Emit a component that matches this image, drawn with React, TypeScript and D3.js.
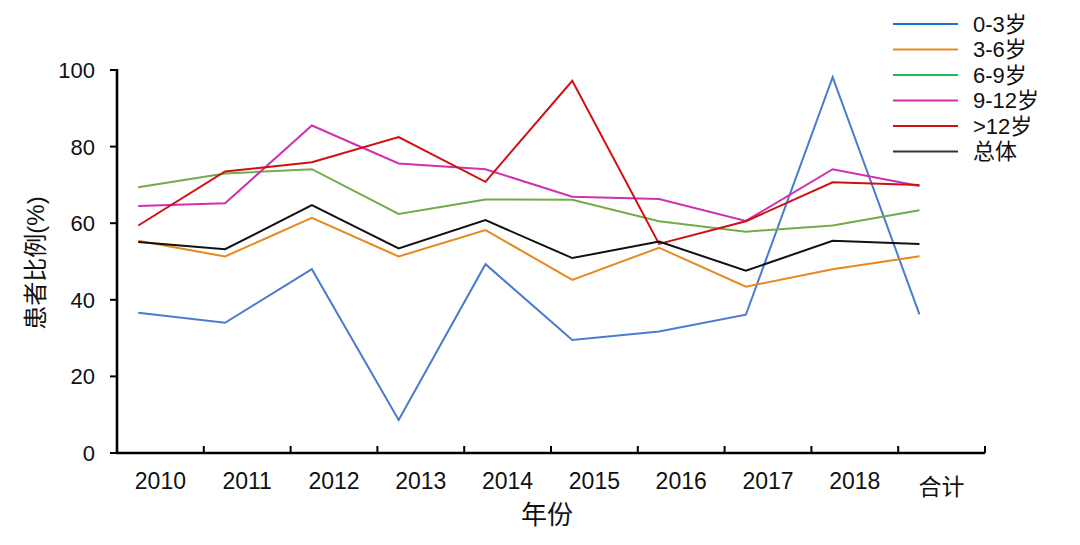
import React from "react";
import * as d3 from "d3";

const categories = ["2010", "2011", "2012", "2013", "2014", "2015", "2016", "2017", "2018", "合计"];
const yTicks = [0, 20, 40, 60, 80, 100];
const seriesNames = ["0-3岁", "3-6岁", "6-9岁", "9-12岁", ">12岁", "总体"];
const lineColors = ["#4a7bd0", "#e8891f", "#70ad47", "#d030b0", "#d01010", "#111111"];
const legendColors = ["#1a73c8", "#e8891f", "#1fb85a", "#d02fb0", "#d01010", "#333333"];
const v03 = [36.6, 34.0, 48.0, 8.6, 49.3, 29.5, 31.7, 36.1, 98.1, 36.2];
const v36 = [55.4, 51.3, 61.4, 51.3, 58.2, 45.2, 53.6, 43.4, 48.0, 51.4];
const v69 = [69.4, 73.0, 74.1, 62.4, 66.2, 66.1, 60.5, 57.8, 59.4, 63.4];
const v912 = [64.5, 65.2, 85.5, 75.6, 74.1, 66.9, 66.3, 60.6, 74.1, 69.7];
const v12p = [59.4, 73.5, 75.9, 82.5, 70.8, 97.2, 54.6, 60.5, 70.7, 70.0];
const vAll = [55.1, 53.2, 64.7, 53.4, 60.8, 50.9, 55.2, 47.6, 55.4, 54.6];
const seriesValues = [v03, v36, v69, v912, v12p, vAll];

export default function App() {
  const W = 1080, H = 545;
  const left = 117, right = 985, top = 70, bottom = 453;
  const x = d3.scaleBand<string>().domain(categories).range([left, right]).padding(0);
  const y = d3.scaleLinear().domain([0, 100]).range([bottom, top]);
  const bw = x.bandwidth();
  const px = (c: string) => (x(c) as number) + bw * 0.245;
  const line = d3.line<number>().x((_, i) => px(categories[i])).y((d) => y(d));
  const latin = "'Liberation Sans', Arial, sans-serif";
  const cjk = "'Liberation Sans', 'Noto Sans CJK SC', sans-serif";

  return (
    <svg width={W} height={H} style={{ position: "absolute", left: 0, top: 0, background: "#fff" }}>
      {seriesValues.map((vals, i) => (
        <path key={i} d={line(vals) as string} fill="none" stroke={lineColors[i]} strokeWidth={2} strokeLinejoin="miter" />
      ))}
      {/* y axis */}
      <line x1={left} x2={left} y1={top - 1} y2={bottom + 1} stroke="#000" strokeWidth={2.6} />
      {yTicks.map((t) => (
        <g key={t}>
          <line x1={left - 7} x2={left} y1={y(t)} y2={y(t)} stroke="#000" strokeWidth={2} />
          <text x={left - 22} y={y(t)} dy="0.36em" textAnchor="end" fontSize={22} fontFamily={latin} fill="#111">{t}</text>
        </g>
      ))}
      {/* x axis */}
      <line x1={left - 1} x2={right} y1={bottom} y2={bottom} stroke="#000" strokeWidth={2.6} />
      {categories.map((c) => (
        <line key={"t" + c} x1={(x(c) as number) + bw} x2={(x(c) as number) + bw} y1={bottom} y2={bottom - 7} stroke="#000" strokeWidth={2} />
      ))}
      {categories.map((c) => (
        <text key={"l" + c} x={(x(c) as number) + bw / 2} y={/^\d+$/.test(c) ? 489 : 495} textAnchor="middle" fontSize={23} fontFamily={cjk} fill="#111">{c}</text>
      ))}
      <text x={547} y={524} textAnchor="middle" fontSize={26} fontFamily={cjk} fill="#111">年份</text>
      <text transform="translate(44,263) rotate(-90)" textAnchor="middle" fontSize={24} fontFamily={cjk} fill="#111">患者比例(%)</text>
      {/* legend */}
      {seriesNames.map((n, i) => (
        <g key={n} transform={`translate(0, ${24 + i * 25.5})`}>
          <line x1={893} x2={958} y1={0} y2={0} stroke={legendColors[i]} strokeWidth={2} />
          <text x={973} y={0} dy="0.36em" fontSize={22} fontFamily={cjk} fill="#111">{n}</text>
        </g>
      ))}
    </svg>
  );
}
